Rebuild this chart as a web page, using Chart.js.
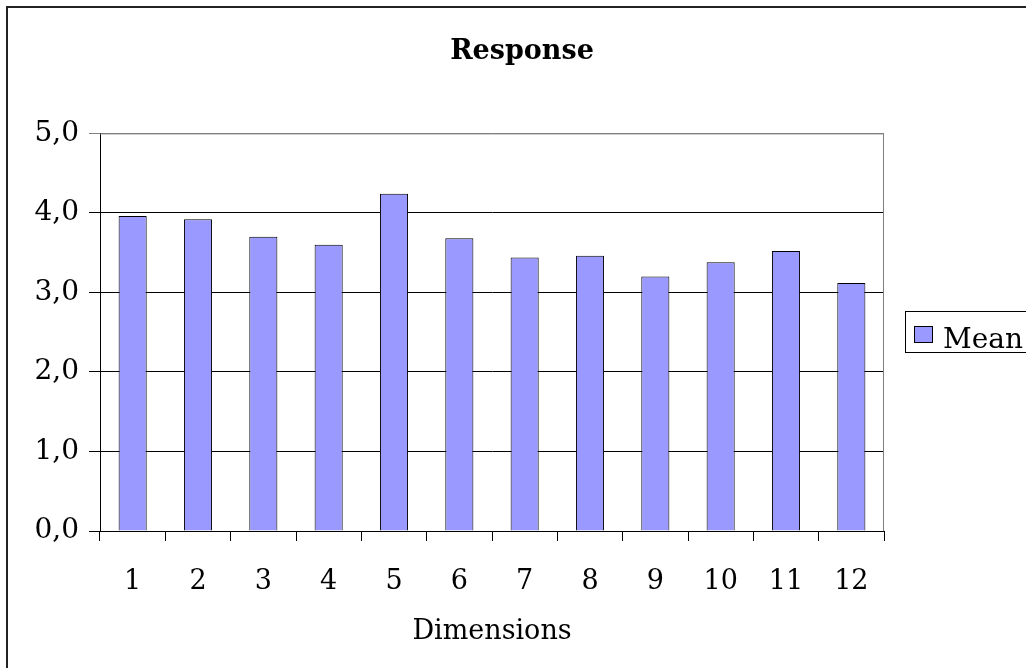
<!DOCTYPE html>
<html lang="en">
<head>
    <meta charset="UTF-8">
    <title>Response</title>
    <script src="https://cdn.jsdelivr.net/npm/chart.js"></script>
    <style>
        html, body { margin: 0; padding: 0; background: #fff; }
        #wrap { width: 1026px; height: 668px; }
    </style>
</head>
<body>
    <div id="wrap">
        <canvas id="responseChart" width="1026" height="668"></canvas>
    </div>

    <script>
        // Data
        const dimensions = ['1', '2', '3', '4', '5', '6', '7', '8', '9', '10', '11', '12'];
        const meanValues = [3.96, 3.92, 3.70, 3.60, 4.24, 3.68, 3.44, 3.46, 3.20, 3.38, 3.52, 3.12];
        const yTicks = [0, 1, 2, 3, 4, 5];

        const serif = '"DejaVu Serif", "Liberation Serif", serif';

        // Outer frame, plot area border and the legend box
        const framePlugin = {
            id: 'frame',
            beforeDatasetsDraw(chart) {
                const { ctx, chartArea } = chart;
                ctx.save();
                ctx.strokeStyle = '#808080';
                ctx.lineWidth = 1;
                ctx.beginPath();
                ctx.moveTo(chartArea.left, chartArea.top + 0.5);
                ctx.lineTo(chartArea.right - 0.5, chartArea.top + 0.5);
                ctx.lineTo(chartArea.right - 0.5, chartArea.bottom);
                ctx.stroke();
                ctx.restore();
            },
            afterDraw(chart) {
                const ctx = chart.ctx;
                ctx.save();
                ctx.strokeStyle = '#222';
                ctx.lineWidth = 2;
                ctx.beginPath();
                ctx.moveTo(7, 668);
                ctx.lineTo(7, 7);
                ctx.lineTo(1026, 7);
                ctx.stroke();

                // legend
                const ds = chart.data.datasets[0];
                ctx.lineWidth = 1;
                ctx.strokeStyle = '#000';
                ctx.strokeRect(905.5, 311.5, 140, 41);
                ctx.fillStyle = ds.backgroundColor;
                ctx.fillRect(914, 326, 19, 17);
                ctx.strokeRect(914.5, 326.5, 18, 16);
                ctx.fillStyle = '#000';
                ctx.font = '28px ' + serif;
                ctx.textBaseline = 'alphabetic';
                ctx.fillText(ds.label, 943, 348);
                ctx.restore();
            }
        };

        const ctx = document.getElementById('responseChart').getContext('2d');
        const responseChart = new Chart(ctx, {
            type: 'bar',
            data: {
                labels: dimensions,
                datasets: [{
                    label: 'Mean',
                    data: meanValues,
                    backgroundColor: '#9999ff',
                    borderColor: '#000',
                    borderWidth: 1,
                    categoryPercentage: 1,
                    barPercentage: 0.43
                }]
            },
            options: {
                responsive: false,
                animation: false,
                layout: { padding: { left: 18, right: 0, top: 0, bottom: 0 } },
                plugins: {
                    legend: { display: false },
                    tooltip: { enabled: false },
                    title: {
                        display: true,
                        text: 'Response',
                        color: '#000',
                        font: { family: serif, size: 27, weight: 'bold', lineHeight: 1.2 },
                        padding: { top: 36, bottom: 65 }
                    }
                },
                scales: {
                    x: {
                        grid: {
                            offset: true,
                            drawOnChartArea: false,
                            drawTicks: true,
                            tickLength: 10,
                            color: '#000'
                        },
                        border: { color: '#000', width: 1 },
                        ticks: {
                            color: '#000',
                            padding: 25,
                            maxRotation: 0,
                            autoSkip: false,
                            font: { family: serif, size: 27 }
                        },
                        title: {
                            display: true,
                            text: 'Dimensions',
                            color: '#000',
                            font: { family: serif, size: 27, lineHeight: 1.2 },
                            padding: { top: 0, bottom: 20 }
                        },
                        afterFit(scale) { scale.height = 137; }
                    },
                    y: {
                        min: 0,
                        max: 5,
                        afterBuildTicks(scale) {
                            scale.ticks = yTicks.map(v => ({ value: v }));
                        },
                        grid: {
                            color: c => (c.tick && c.tick.value === 5 ? '#808080' : '#000'),
                            lineWidth: 1,
                            drawTicks: true,
                            tickLength: 11
                        },
                        border: { color: '#000', width: 1 },
                        ticks: {
                            color: '#000',
                            padding: 10,
                            font: { family: serif, size: 28 },
                            callback: v => v.toFixed(1).replace('.', ',')
                        },
                        afterFit(scale) { scale.width = 82; }
                    },
                    // empty right-hand axis that only reserves room for the legend
                    side: {
                        position: 'right',
                        display: true,
                        grid: { display: false },
                        border: { display: false },
                        ticks: { display: false },
                        afterFit(scale) { scale.width = 142; }
                    }
                }
            },
            plugins: [framePlugin]
        });
    </script>
</body>
</html>
